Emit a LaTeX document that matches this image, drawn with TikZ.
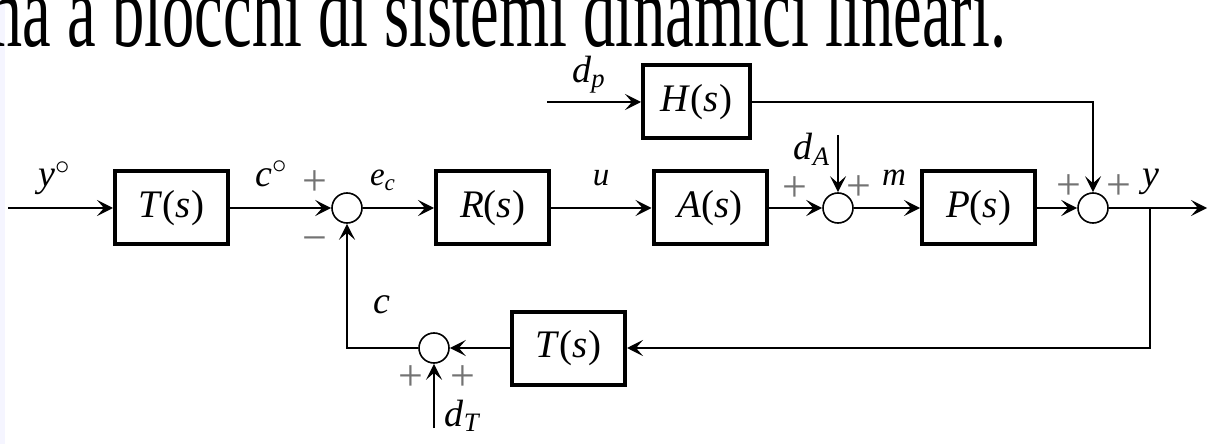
\documentclass[tikz,border=0pt]{standalone}
\usepackage{fontspec}
\setmainfont{Liberation Serif}
\usetikzlibrary{arrows.meta}

\tikzset{
  blk/.style={draw, line width=2pt, minimum width=56.5pt, minimum height=36.5pt,
    inner sep=0pt, font=\fontsize{19.5}{20}\selectfont},
  sumnode/.style={draw, circle, line width=0.8pt, minimum size=15pt, inner sep=0pt},
  lbl/.style={font=\fontsize{19}{20}\selectfont, inner sep=0pt},
  lbls/.style={font=\fontsize{16.5}{18}\selectfont, inner sep=0pt},
  sgn/.style={font=\fontsize{22}{22}\selectfont, text=black!55, inner sep=0pt},
}
\newcommand{\tf}[1]{\textit{#1}(\textit{s})}

\begin{document}
\begin{tikzpicture}[x=0.5pt, y=-0.5pt, line width=1pt,
    >={Stealth[length=8pt,width=8pt,inset=3.5pt]}]
  \useasboundingbox (0,0) rectangle (1217,444);
  \fill[blue!4] (0,0) rectangle (5,444);
  \node[anchor=base east, inner sep=0pt] (title) at (1007,47)
    {\fontsize{52}{52}\selectfont\scalebox{0.62}[1]{ma a blocchi di sistemi dinamici lineari.}};

  % blocchi
  \node[blk] (Tin) at (171.5,208) {\tf{T}};
  \node[blk] (R) at (492.5,208) {\tf{R}};
  \node[blk] (A) at (710,208) {\tf{A}};
  \node[blk] (P) at (978.5,208) {\tf{P}};
  \node[blk, minimum width=53.5pt] (H) at (696.5,102) {\tf{H}};
  \node[blk] (Tfb) at (568.5,348) {\tf{T}};

  % nodi sommatori
  \node[sumnode] (s1) at (347,208) {};
  \node[sumnode] (s2) at (838,208) {};
  \node[sumnode] (s3) at (1093,208) {};
  \node[sumnode] (s4) at (434,348) {};

  \coordinate (in) at (8,208);
  \coordinate (out) at (1207,208);
  \coordinate (dp) at (547,102);
  \coordinate (dA) at (838,135);
  \coordinate (dT) at (434,428);
  \coordinate (br) at (1150,208);

  \draw[->] (in) -- (Tin);
  \draw[->] (Tin) -- (s1);
  \draw[->] (s1) -- (R);
  \draw[->] (R) -- (A);
  \draw[->] (A) -- (s2);
  \draw[->] (s2) -- (P);
  \draw[->] (P) -- (s3);
  \draw[->] (s3) -- (out);
  \draw[->] (dp) -- (H);
  \draw[->] (H.east) -| (s3.north);
  \draw[->] (dA) -- (s2.north);
  \draw[->] (br) |- (Tfb.east);
  \draw[->] (Tfb) -- (s4);
  \draw[->] (s4.west) -| (s1.south);
  \draw[->] (dT) -- (s4.south);

  % etichette
  \node[lbl] (lyo) at (55,178) {\textit{y}$^\circ$};
  \node[lbl] (lco) at (272,174) {\textit{c}$^\circ$};
  \node[lbls] (lec) at (383,180) {\textit{e}\textsubscript{\textit{c}}};
  \node[lbls] (lu) at (601,178) {\textit{u}};
  \node[lbl] (ldA) at (812,149) {\textit{d}\textsubscript{\textit{A}}};
  \node[lbls] (lm) at (894,178) {\textit{m}};
  \node[lbl] (ly) at (1151,182) {\textit{y}};
  \node[lbl] (ldp) at (589,75) {\textit{d}\textsubscript{\textit{p}}};
  \node[lbl] (lc) at (382,305) {\textit{c}};
  \node[lbl] (ldT) at (463,416) {\textit{d}\textsubscript{\textit{T}}};

  % segni
  \node[sgn] at (315,183) {+};
  \node[sgn] at (315,245) {−};
  \node[sgn] at (795,189) {+};
  \node[sgn] at (859,188) {+};
  \node[sgn] at (1069,187) {+};
  \node[sgn] at (1119,187) {+};
  \node[sgn] at (411,378) {+};
  \node[sgn] at (463,378) {+};
\end{tikzpicture}
\end{document}
